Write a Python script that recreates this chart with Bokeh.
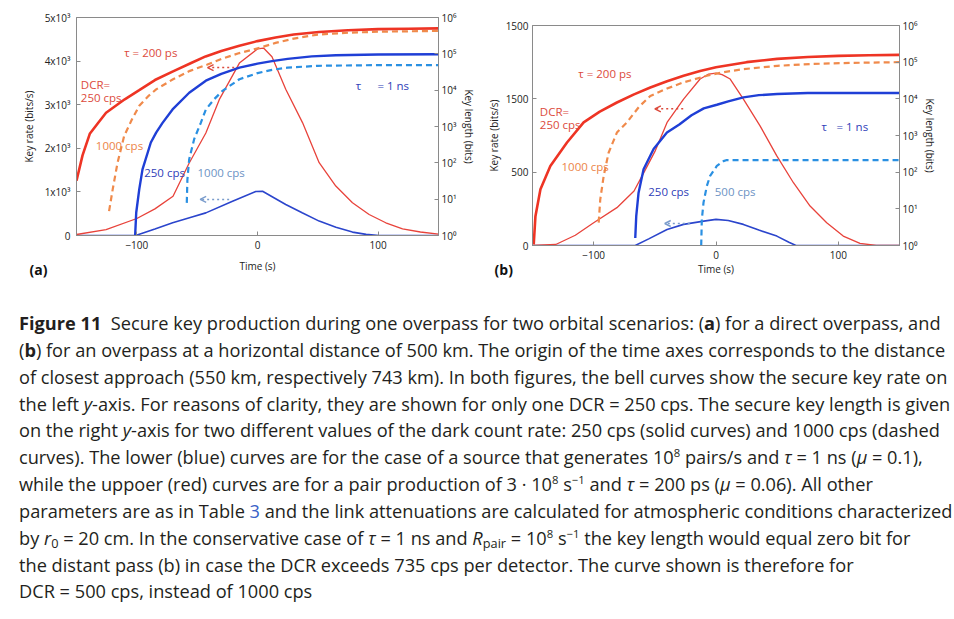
from bokeh.plotting import figure
from bokeh.models import (Range1d, LinearAxis, LogAxis, LogScale, FixedTicker,
                          Label, Arrow, OpenHead, Div)
from bokeh.layouts import row, column
from bokeh.embed import file_html
from bokeh.resources import INLINE

# ---------------- data: panel (a) direct overpass ----------------
a_red_rate_t = [-150, -125.5, -100, -85, -70, -56.6, -42.8, -31.7, -15, 0, 5, 12, 23.4, 37.3, 51.1, 64.9, 78.7, 92.5, 106.3, 120.2, 135, 150]
a_red_rate_v = [23, 137, 390, 610, 900, 1664, 2351, 3115, 3954, 4280, 4300, 4100, 3354, 2589, 1670, 1135, 751, 482, 292, 154, 80, 30]

a_blue_rate_t = [-150, -101, -85, -70.3, -55, -42.8, -20.7, -1.4, 4.2, 23.4, 37, 51.1, 65, 78.7, 90, 100.8, 150]
a_blue_rate_v = [0, 0, 150, 290, 420, 519, 786, 1010, 1015, 712, 520, 330, 190, 78, 25, 0, 0]

a_red250_t = [-150, -145, -139, -131, -125.5, -110, -98, -85, -70, -55, -43, -30, -15, 0, 15, 30, 51, 75, 100, 125, 150]
a_red250_v = [32, 160, 630, 1400, 2400, 5600, 10000, 19000, 33000, 56000, 85000, 120000, 166000, 224000, 282000, 339000, 398000, 447000, 479000, 490000, 501000]

a_red1000_t = [-123, -120, -116, -110.5, -104, -98, -90, -84, -70, -56, -42, -29, -15, 0, 15, 30, 50, 75, 100, 125, 150]
a_red1000_v = [4.7, 18.6, 100, 550, 1580, 3700, 7100, 10500, 20000, 34000, 50000, 74000, 105000, 141000, 200000, 263000, 339000, 380000, 407000, 417000, 427000]

a_blue250_t = [-101.4, -100.5, -98, -95.3, -88.4, -84, -78.7, -70.4, -56.6, -42.8, -30, -15, 0, 12, 25, 45, 65, 100, 150]
a_blue250_v = [1, 4.3, 18.6, 66, 363, 676, 1260, 2950, 8500, 18200, 28200, 41700, 53700, 63100, 72400, 85100, 91200, 95500, 97700]

a_blue1000_t = [-58.6, -58.1, -56.6, -52.5, -47, -42.8, -36, -29, -15, 0, 12, 25, 50, 100, 150]
a_blue1000_v = [7.9, 34.7, 126, 447, 1260, 2950, 5600, 9550, 20000, 29500, 36300, 41700, 46800, 49000, 49000]

# ---------------- data: panel (b) pass at 500 km ----------------
b_red_rate_t = [-150, -131, -115, -100, -81, -67, -59, -50, -40, -26.5, -13, -6, 0, 5, 11.6, 22.4, 36, 49.7, 63.3, 76.9, 90.5, 104, 117.7, 131, 150]
b_red_rate_v = [0, 7, 70, 155, 258, 372, 497, 640, 839, 998, 1135, 1169, 1176, 1165, 1135, 998, 816, 611, 428, 269, 155, 64, 14, 0, 0]

b_blue_rate_t = [-150, -66, -55, -40, -26.5, -10, 0, 10, 22.4, 35, 49.7, 60, 65.4, 150]
b_blue_rate_v = [0, 0, 45, 109, 144, 166, 178, 170, 144, 105, 64, 20, 0, 0]

b_red250_t = [-149, -147.6, -143.5, -135.4, -121.8, -108.2, -95, -81, -67, -53.7, -40, -26.5, -13, 0, 25, 50, 75, 100, 125, 150]
b_red250_v = [1.07, 6.3, 34, 148, 646, 2290, 4470, 7940, 13200, 20400, 30200, 42700, 57500, 72400, 100000, 123000, 138000, 148000, 155000, 158000]

b_red1000_t = [-95.9, -94.6, -91.8, -87.8, -81, -72.8, -63, -53.7, -40, -26.5, -7.5, 5, 22.4, 50, 77, 110, 150]
b_red1000_v = [4.2, 18.2, 79, 339, 1200, 2290, 6030, 12000, 19100, 28200, 42700, 52500, 64600, 79400, 89100, 95500, 100000]

b_blue250_t = [-66, -65.2, -63.3, -59.2, -51, -40.1, -30, -20, -10, 0.7, 10, 22.4, 35, 50, 75, 100, 150]
b_blue250_v = [1.6, 6.3, 27.5, 120, 427, 1200, 2000, 3550, 5500, 6900, 8500, 11000, 12600, 13500, 14450, 14450, 14450]

b_blue500_t = [-12.1, -11.6, -10.2, -7.5, -4.8, 0.7, 6.1, 8.8, 150]
b_blue500_v = [1, 5.1, 14.8, 41.7, 79.4, 148, 200, 214, 214]

# ---------------- tick labels ----------------
a_rate_ticks = [0, 1000, 2000, 3000, 4000, 5000]
a_rate_labels = ["0", "1x10³", "2x10³", "3x10³", "4x10³", "5x10³"]
b_rate_ticks = [0, 500, 1000, 1500]
b_rate_labels = ["0", "500", "1500", "1500"]
len_ticks = [1, 10, 100, 1000, 10000, 100000, 1000000]
len_labels = ["10⁰", "10¹", "10²", "10³", "10⁴", "10⁵", "10⁶"]
time_ticks = [-100, 0, 100]

# ---------------- styles ----------------
FONT = "Open Sans"
AX = "#8a8a8a"
RED = "#ee3424"
ORANGE = "#f08a4b"
BLUE = "#1f3fd6"
LBLUE = "#2a90e2"
RED_THIN = "#e8433b"
BLUE_THIN = "#2b45cc"
T_RED = "#dc4a3c"
T_ORANGE = "#ec8447"
T_BLUE = "#3040b8"
T_LBLUE = "#6d93c4"


def style_axis(ax):
    ax.axis_line_color = AX
    ax.major_tick_line_color = AX
    ax.major_tick_in = 4
    ax.major_tick_out = 0
    ax.minor_tick_line_color = None
    ax.major_label_text_font = FONT
    ax.major_label_text_font_size = "10px"
    ax.major_label_text_color = "#222222"
    ax.axis_label_text_font = FONT
    ax.axis_label_text_font_size = "10px"
    ax.axis_label_text_font_style = "normal"
    ax.axis_label_text_color = "#222222"


def make_panel(fw, fh, ymax, rate_ticks, rate_labels, borders, std):
    # std: (x label standoff, left tick standoff, left label standoff,
    #       right tick standoff, right label standoff)
    p = figure(frame_width=fw, frame_height=fh, title=None,
               x_range=Range1d(-150, 150), y_range=Range1d(0, ymax),
               x_axis_type=None, y_axis_type=None,
               min_border_left=borders[0], min_border_right=borders[1],
               min_border_top=borders[2], min_border_bottom=borders[3],
               output_backend="svg", toolbar_location=None)
    p.frame_align = False
    p.xgrid.visible = False
    p.ygrid.visible = False
    p.outline_line_color = AX
    p.extra_y_ranges = {"len": Range1d(1, 1e6)}
    p.extra_y_scales = {"len": LogScale()}

    xb = LinearAxis(ticker=FixedTicker(ticks=time_ticks), axis_label="Time (s)")
    style_axis(xb)
    xb.major_label_standoff = 5
    xb.axis_label_standoff = std[0]
    p.add_layout(xb, "below")

    yl = LinearAxis(ticker=FixedTicker(ticks=rate_ticks), axis_label="Key rate (bits/s)",
                    major_label_overrides=dict(zip(rate_ticks, rate_labels)))
    style_axis(yl)
    yl.major_label_standoff = std[1]
    yl.axis_label_standoff = std[2]
    p.add_layout(yl, "left")

    yr = LogAxis(y_range_name="len", ticker=FixedTicker(ticks=len_ticks),
                 axis_label="Key length (bits)",
                 major_label_overrides=dict(zip(len_ticks, len_labels)))
    style_axis(yr)
    yr.major_label_standoff = std[3]
    yr.axis_label_standoff = std[4]
    p.add_layout(yr, "right")
    return p


def lab(p, x, y, text, color, size="11.5px", bold=False, place="center"):
    l = Label(x=x, y=y, text=text, text_color=color, text_font=FONT,
              text_font_size=size, text_baseline="middle",
              text_font_style="bold" if bold else "normal")
    if place == "center":
        p.add_layout(l)
    else:
        p.add_layout(l, place)


def arrow(p, x0, x1, y, color):
    p.add_layout(Arrow(x_start=x0, y_start=y, x_end=x1, y_end=y,
                       line_color=color, line_width=1.6, line_dash="2 3",
                       end=OpenHead(size=6, line_color=color, line_width=1.4)))


# ---------------- panel (a) : frame 362 x 218 ----------------
pa = make_panel(362, 218, 5000, a_rate_ticks, a_rate_labels, (76, 45, 17, 70), (7, 6, 6, 3, 3))
pa.line(a_blue_rate_t, a_blue_rate_v, line_color=BLUE_THIN, line_width=1.6)
pa.line(a_red_rate_t, a_red_rate_v, line_color=RED_THIN, line_width=1.3)
pa.line(a_blue1000_t, a_blue1000_v, y_range_name="len", line_color=LBLUE, line_width=2.2, line_dash="6 4")
pa.line(a_red1000_t, a_red1000_v, y_range_name="len", line_color=ORANGE, line_width=2.2, line_dash="6 4")
pa.line(a_blue250_t, a_blue250_v, y_range_name="len", line_color=BLUE, line_width=2.4)
pa.line(a_red250_t, a_red250_v, y_range_name="len", line_color=RED, line_width=2.6)

lab(pa, -110.5, 4197, "τ = 200 ps", T_RED)
lab(pa, -146.4, 3469, "DCR=", T_RED)
lab(pa, -146.4, 3163, "250 cps", T_RED)
lab(pa, -134, 2054, "1000 cps", T_ORANGE)
lab(pa, -93.9, 1440, "250 cps", T_BLUE)
lab(pa, -49.7, 1440, "1000 cps", T_LBLUE)
lab(pa, 81.5, 3432, "τ", T_BLUE)
lab(pa, 99.4, 3432, "= 1 ns", T_BLUE)
arrow(pa, -19.3, -41.4, 3853, T_RED)
arrow(pa, -23.5, -47.5, 827, "#7a9ccc")
lab(pa, -189, -788, "(a)", "#111111", size="14px", bold=True, place="below")

# ---------------- panel (b) : frame 367 x 220 ----------------
pb = make_panel(367, 220, 1500, b_rate_ticks, b_rate_labels, (45, 43, 25, 60), (0, 4, 2, 3, 3))
pb.line(b_blue_rate_t, b_blue_rate_v, line_color=BLUE_THIN, line_width=1.6)
pb.line(b_red_rate_t, b_red_rate_v, line_color=RED_THIN, line_width=1.3)
pb.line(b_blue500_t, b_blue500_v, y_range_name="len", line_color=LBLUE, line_width=2.2, line_dash="6 4")
pb.line(b_red1000_t, b_red1000_v, y_range_name="len", line_color=ORANGE, line_width=2.2, line_dash="6 4")
pb.line(b_blue250_t, b_blue250_v, y_range_name="len", line_color=BLUE, line_width=2.4)
pb.line(b_red250_t, b_red250_v, y_range_name="len", line_color=RED, line_width=2.6)

lab(pb, -112.6, 1171, "τ = 200 ps", T_RED)
lab(pb, -144, 916, "DCR=", T_RED)
lab(pb, -144, 825, "250 cps", T_RED)
lab(pb, -126.3, 541, "1000 cps", T_ORANGE)
lab(pb, -55.4, 371, "250 cps", T_BLUE)
lab(pb, -1, 371, "500 cps", T_LBLUE)
lab(pb, 86.2, 809, "τ", T_BLUE)
lab(pb, 98.5, 809, "= 1 ns", T_BLUE)
arrow(pb, -26.8, -50, 932, T_RED)
arrow(pb, -21.4, -41.9, 150, "#7a9ccc")
lab(pb, -181, -166, "(b)", "#111111", size="14px", bold=True, place="below")

# ---------------- caption ----------------
SUP = '<sup style="font-size:0.62em;line-height:0;vertical-align:0.6em">'
SUB = '<sub style="font-size:0.7em;line-height:0;vertical-align:-0.25em">'
cap_lines = [
    '<b>Figure 11</b>&nbsp;&nbsp;Secure key production during one overpass for two orbital scenarios: (<b>a</b>) for a direct overpass, and',
    '(<b>b</b>) for an overpass at a horizontal distance of 500 km. The origin of the time axes corresponds to the distance',
    'of closest approach (550 km, respectively 743 km). In both figures, the bell curves show the secure key rate on',
    'the left <i>y</i>-axis. For reasons of clarity, they are shown for only one DCR = 250 cps. The secure key length is given',
    'on the right <i>y</i>-axis for two different values of the dark count rate: 250 cps (solid curves) and 1000 cps (dashed',
    'curves). The lower (blue) curves are for the case of a source that generates 10' + SUP + '8</sup> pairs/s and <i>τ</i> = 1 ns (<i>μ</i> = 0.1),',
    'while the uppoer (red) curves are for a pair production of 3 · 10' + SUP + '8</sup> s' + SUP + '−1</sup> and <i>τ</i> = 200 ps (<i>μ</i> = 0.06). All other',
    'parameters are as in Table <span style="color:#3a63c8">3</span> and the link attenuations are calculated for atmospheric conditions characterized',
    'by <i>r</i>' + SUB + '0</sub> = 20 cm. In the conservative case of <i>τ</i> = 1 ns and <i>R</i>' + SUB + 'pair</sub> = 10' + SUP + '8</sup> s' + SUP + '−1</sup> the key length would equal zero bit for',
    'the distant pass (b) in case the DCR exceeds 735 cps per detector. The curve shown is therefore for',
    'DCR = 500 cps, instead of 1000 cps',
]
html = ('<div style="margin-left:14px;font-family:\'Open Sans\';'
        'font-size:18.2px;line-height:26.85px;color:#231f20;">'
        + "".join('<div style="white-space:nowrap">%s</div>' % l for l in cap_lines)
        + '</div>')
cap = Div(text=html, width=938, height=290)

layout = column(row(pa, pb), cap)

open("out.html", "w").write(file_html(layout, INLINE))
